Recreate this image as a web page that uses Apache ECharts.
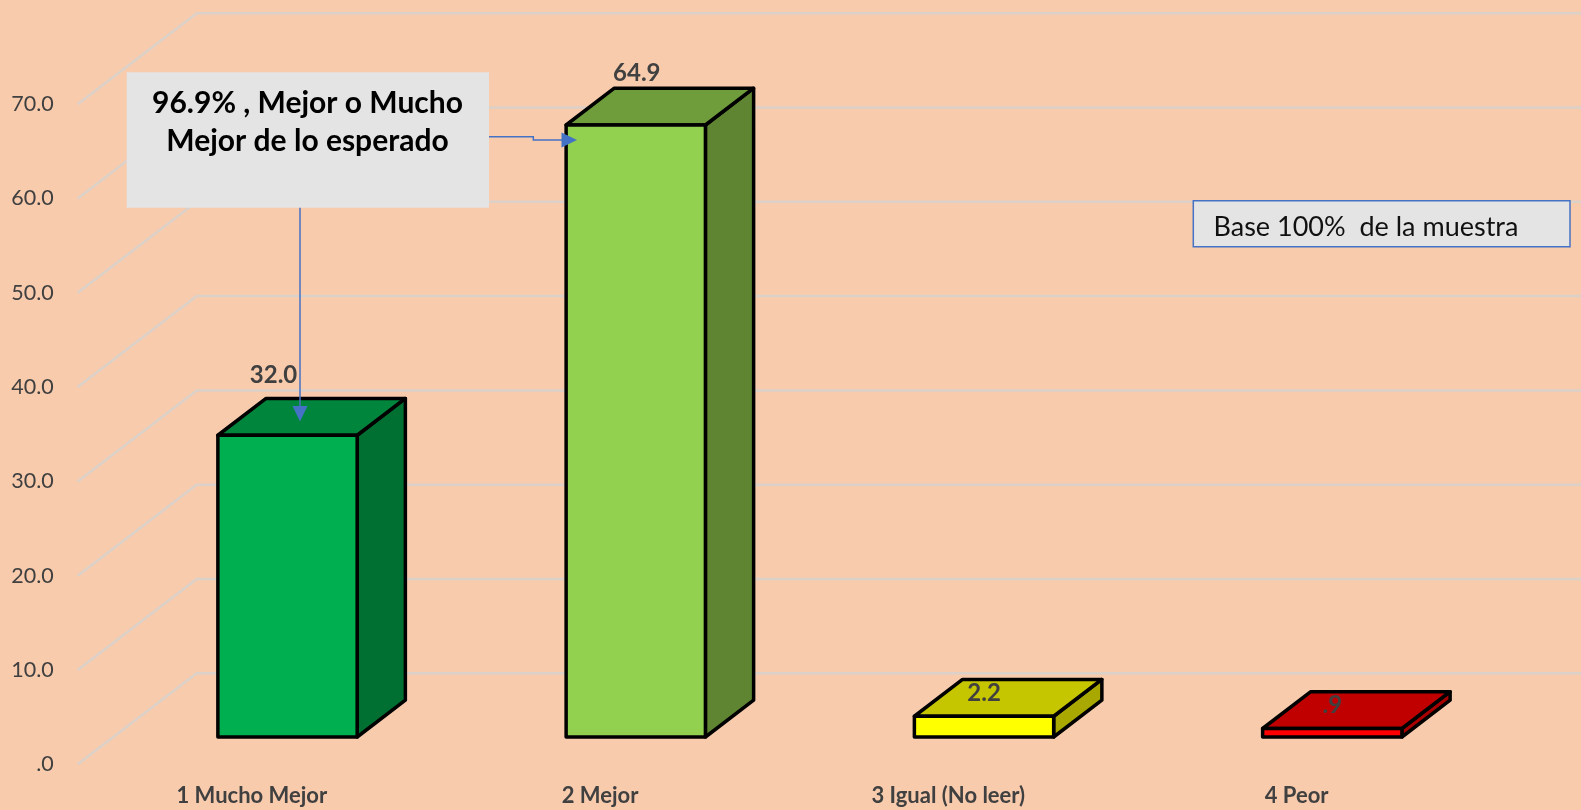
<!DOCTYPE html>
<html>
<head>
<meta charset="utf-8">
<script src="https://cdn.jsdelivr.net/npm/echarts@6/dist/echarts.min.js"></script>
<style>
  html, body { margin: 0; padding: 0; background: #f8cbad; }
  #chart { width: 1581px; height: 810px; }
</style>
</head>
<body>
<div id="chart"></div>
<script>
// Data
const categories = ['1 Mucho Mejor', '2 Mejor', '3 Igual (No leer)', '4 Peor'];
const values = [32.0, 64.9, 2.2, 0.9];
const valueLabels = ['32.0', '64.9', '2.2', '.9'];
const yTicks = [0, 10, 20, 30, 40, 50, 60, 70];

// 3D projection: offset from the front edge of the floor to the back wall
const WALL_DX = 119, WALL_DY = -91;
// bars sit between these fractions of the depth
const BAR_FRONT = 0.30, BAR_DEPTH = 0.405;
const BAR_WIDTH_RATIO = 0.4;

const faceColors = [
  { front: '#00b050', top: '#00863c', side: '#007032' },
  { front: '#92d050', top: '#6f9d3c', side: '#5f8532' },
  { front: '#ffff00', top: '#c6c600', side: '#a8a800' },
  { front: '#ff0000', top: '#c00000', side: '#a80000' }
];
// label placement relative to the top-centre of each front face
const labelOffsets = [[-14, -60], [1, -52], [0, -23], [0, -23]];

const FONT = 'Lato, "Open Sans", sans-serif';
const TEXT_GREY = '#404040';

function renderGridLine(params, api) {
  const cs = params.coordSys;
  const y = api.coord([0, api.value(1)])[1];
  const x0 = cs.x;
  const x1 = x0 + WALL_DX, y1 = y + WALL_DY;
  const x2 = cs.x + cs.width + WALL_DX;
  return {
    type: 'polyline',
    shape: { points: [[x0, y], [x1, y1], [x2, y1]] },
    style: { stroke: '#dcd1c9', lineWidth: 2.5, fill: null }
  };
}

function renderBar(params, api) {
  const i = api.value(0);
  const v = api.value(1);
  const base = api.coord([i, 0]);
  const top = api.coord([i, v]);
  const hw = api.size([1, 0])[0] * BAR_WIDTH_RATIO / 2;
  const fx = WALL_DX * BAR_FRONT, fy = WALL_DY * BAR_FRONT;
  const dx = WALL_DX * BAR_DEPTH, dy = WALL_DY * BAR_DEPTH;
  const l = base[0] + fx - hw, r = base[0] + fx + hw;
  const t = top[1] + fy, b = base[1] + fy;
  const c = faceColors[i];
  const edge = { stroke: '#000', lineWidth: 3.5, lineJoin: 'round' };
  const off = labelOffsets[i];
  return {
    type: 'group',
    children: [
      { type: 'polygon', shape: { points: [[r, t], [r, b], [r + dx, b + dy], [r + dx, t + dy]] },
        style: Object.assign({ fill: c.side }, edge) },
      { type: 'polygon', shape: { points: [[l, t], [r, t], [r + dx, t + dy], [l + dx, t + dy]] },
        style: Object.assign({ fill: c.top }, edge) },
      { type: 'rect', shape: { x: l, y: t, width: r - l, height: b - t },
        style: Object.assign({ fill: c.front }, edge) },
      { type: 'text', x: (l + r) / 2 + off[0], y: t + off[1], z2: 10,
        style: { text: valueLabels[i], fill: TEXT_GREY, fontFamily: FONT, fontWeight: 'bold',
                 fontSize: 24, align: 'center', verticalAlign: 'middle' } }
    ]
  };
}

const ARROW = '#4472c4';

const option = {
  backgroundColor: '#f8cbad',
  animation: false,
  grid: { left: 77.7, right: 110.3, top: 104.2, bottom: 45.7 },
  xAxis: {
    type: 'category',
    data: categories,
    boundaryGap: true,
    axisLine: { show: false },
    axisTick: { show: false },
    splitLine: { show: false },
    axisLabel: {
      margin: 21,
      color: TEXT_GREY, fontFamily: FONT, fontWeight: 'bold', fontSize: 22
    }
  },
  yAxis: {
    type: 'value',
    min: 0, max: 70, interval: 10,
    axisLine: { show: false },
    axisTick: { show: false },
    splitLine: { show: false },
    axisLabel: {
      margin: 24,
      color: TEXT_GREY, fontFamily: FONT, fontSize: 21.5,
      formatter: v => v === 0 ? '.0' : v.toFixed(1)
    }
  },
  series: [
    {
      type: 'custom',
      name: 'grid',
      clip: false,
      z: 1,
      silent: true,
      renderItem: renderGridLine,
      data: yTicks.map(t => [0, t])
    },
    {
      type: 'custom',
      name: 'values',
      clip: false,
      z: 2,
      renderItem: renderBar,
      data: values.map((v, i) => [i, v])
    }
  ],
  graphic: [
    // callout box
    { type: 'rect', z: 20, shape: { x: 126.7, y: 72.3, width: 362.3, height: 135.4 },
      style: { fill: '#e4e4e4' } },
    { type: 'text', z: 21, x: 307.5, y: 103.5,
      style: { text: '96.9% , Mejor o Mucho', fill: '#000', fontFamily: FONT, fontWeight: 'bold',
               fontSize: 30, align: 'center', verticalAlign: 'middle' } },
    { type: 'text', z: 21, x: 307.5, y: 141.7,
      style: { text: 'Mejor de lo esperado', fill: '#000', fontFamily: FONT, fontWeight: 'bold',
               fontSize: 30, align: 'center', verticalAlign: 'middle' } },
    // connector down to the first bar
    { type: 'line', z: 20, shape: { x1: 300, y1: 207.7, x2: 300, y2: 408 },
      style: { stroke: ARROW, lineWidth: 1.5 } },
    { type: 'polygon', z: 20, shape: { points: [[292.5, 406], [307.5, 406], [300, 421.5]] },
      style: { fill: ARROW } },
    // elbow connector to the second bar
    { type: 'polyline', z: 20,
      shape: { points: [[489, 136.7], [533.3, 136.7], [533.3, 140], [563, 140]] },
      style: { stroke: ARROW, lineWidth: 1.5, fill: null } },
    { type: 'polygon', z: 20, shape: { points: [[561.5, 132.5], [561.5, 147.5], [577, 140]] },
      style: { fill: ARROW } },
    // sample base note
    { type: 'rect', z: 20, shape: { x: 1193.3, y: 200.7, width: 376.7, height: 46 },
      style: { fill: '#e4e4e4', stroke: ARROW, lineWidth: 1.5 } },
    { type: 'text', z: 21, x: 1213.5, y: 227.5,
      style: { text: 'Base 100%  de la muestra', fill: '#111', fontFamily: FONT,
               fontSize: 27, align: 'left', verticalAlign: 'middle' } }
  ]
};

const chart = echarts.init(document.getElementById('chart'), null, { renderer: 'canvas' });
chart.setOption(option);
</script>
</body>
</html>
